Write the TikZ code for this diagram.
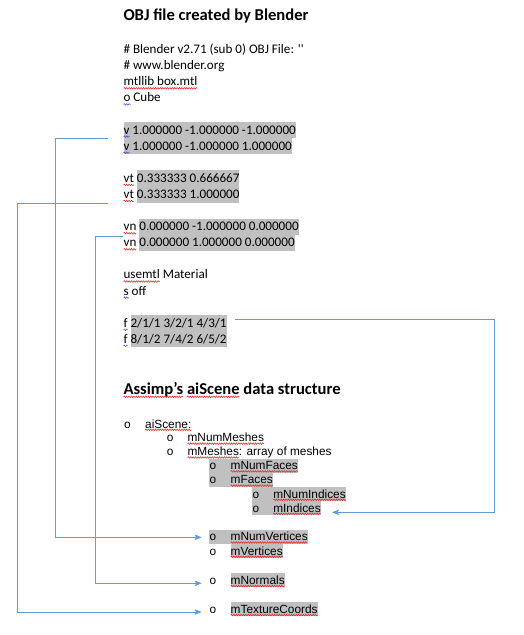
\documentclass[tikz,border=0pt]{standalone}
\usepackage{fontspec}
\setmainfont{Carlito}
\newfontfamily\arialf{Liberation Sans}
\newfontfamily\courf{Liberation Mono}
\usetikzlibrary{arrows.meta,decorations.pathmorphing,backgrounds}
\definecolor{hlgray}{RGB}{192,192,192}
\definecolor{connblue}{RGB}{100,155,210}
\definecolor{sqred}{RGB}{230,30,30}
\definecolor{sqblue}{RGB}{50,70,220}
\newcommand\ftop{\fontsize{13.1}{16}\selectfont}
\newcommand\fttl{\fontsize{16.6}{20}\selectfont\bfseries}
\newcommand\fbot{\arialf\fontsize{11.85}{14}\selectfont}
\newcommand\fbul{\courf\fontsize{11.85}{14}\selectfont}
\newcommand\wsT{2.96pt}
\newcommand\wsB{3.29pt}
\newcommand\wsH{3.75pt}
% highlight from node #1 to node #2, top #3 above base, bottom #4 below base
\newcommand\hlr[4]{\fill[hlgray] ([yshift=#3]#1.base west) rectangle ([yshift=-#4]#2.base east);}
% squiggle under node #2 in style #1, #3 below base
\newcommand\sq[3]{\draw[#1] ([yshift=-#3]#2.base west) -- ([yshift=-#3]#2.base east);}
\tikzset{
  tx/.style={anchor=base west, inner sep=0pt, outer sep=0pt, font=\ftop},
  ttl/.style={anchor=base west, inner sep=0pt, outer sep=0pt, font=\fttl},
  bt/.style={anchor=base west, inner sep=0pt, outer sep=0pt, font=\fbot},
  bul/.style={anchor=base west, inner sep=0pt, outer sep=0pt, font=\fbul},
  conn/.style={draw=connblue, line width=1pt, -{Stealth[length=7pt,width=5.5pt,inset=1.5pt]}},
  redsq/.style={draw=sqred, line width=0.5pt, decorate, decoration={snake, amplitude=0.8pt, segment length=2.4pt}},
  bluesq/.style={draw=sqblue, line width=0.5pt, decorate, decoration={snake, amplitude=0.8pt, segment length=2.4pt}}
}
\begin{document}
\begin{tikzpicture}[x=1pt,y=-1pt]
\useasboundingbox (0,0) rectangle (524,635);
% ---------- OBJ file ----------
\node[ttl] (ttlA) at (123.5,20.7) {OBJ file created by Blender};
\node[tx] (l0) at (123.6,53.5) {\# Blender v2.71 (sub 0) OBJ File: \textquotesingle\textquotesingle};
\node[tx] (l1) at (123.6,69.6) {\# www.blender.org};
\node[tx] (l2) at (123.6,85.7) {mtllib box.mtl};
\node[tx] (l3a) at (123.6,101.8) {o};
\node[tx] (l3b) at ([xshift=\wsT]l3a.base east) {Cube};
\node[tx] (v1a) at (123.6,134.0) {v};
\node[tx] (v1b) at ([xshift=\wsT]v1a.base east) {1.000000 -1.000000 -1.000000};
\node[tx] (v2a) at (123.6,150.1) {v};
\node[tx] (v2b) at ([xshift=\wsT]v2a.base east) {1.000000 -1.000000 1.000000};
\node[tx] (vt1a) at (123.6,182.3) {vt};
\node[tx] (vt1b) at ([xshift=\wsT]vt1a.base east) {0.333333 0.666667};
\node[tx] (vt2a) at (123.6,198.4) {vt};
\node[tx] (vt2b) at ([xshift=\wsT]vt2a.base east) {0.333333 1.000000};
\node[tx] (vn1a) at (123.6,230.6) {vn};
\node[tx] (vn1b) at ([xshift=\wsT]vn1a.base east) {0.000000 -1.000000 0.000000};
\node[tx] (vn2a) at (123.6,246.7) {vn};
\node[tx] (vn2b) at ([xshift=\wsT]vn2a.base east) {0.000000 1.000000 0.000000};
\node[tx] (uma) at (123.6,278.9) {usemtl};
\node[tx] (umb) at ([xshift=\wsT]uma.base east) {Material};
\node[tx] (soa) at (123.6,295.0) {s};
\node[tx] (sob) at ([xshift=\wsT]soa.base east) {off};
\node[tx] (f1a) at (123.6,327.2) {f};
\node[tx] (f1b) at ([xshift=\wsT]f1a.base east) {2/1/1 3/2/1 4/3/1};
\node[tx] (f2a) at (123.6,343.3) {f};
\node[tx] (f2b) at ([xshift=\wsT]f2a.base east) {8/1/2 7/4/2 6/5/2};
% ---------- Assimp ----------
\node[ttl] (ttlB1) at (123.5,394.0) {Assimp’s};
\node[ttl] (ttlB2) at ([xshift=\wsH]ttlB1.base east) {aiScene};
\node[ttl] (ttlB3) at ([xshift=\wsH]ttlB2.base east) {data structure};
\node[bul] (b1) at (123.8,428.0) {o};
\node[bt] (s1) at (145.2,428.0) {aiScene:};
\node[bul] (b2) at (166.5,441.8) {o};
\node[bt] (s2) at (187.6,441.8) {mNumMeshes};
\node[bul] (b3) at (166.5,455.7) {o};
\node[bt] (s3) at (187.6,455.7) {mMeshes};
\node[bt] (s3b) at (s3.base east) {: array of meshes};
\node[bul] (b4) at (209.3,469.6) {o};
\node[bt] (s4) at (230.7,469.6) {mNumFaces};
\node[bul] (b5) at (209.3,483.8) {o};
\node[bt] (s5) at (230.7,483.8) {mFaces};
\node[bul] (b6) at (252.3,498.0) {o};
\node[bt] (s6) at (273.3,498.0) {mNumIndices};
\node[bul] (b7) at (252.3,512.0) {o};
\node[bt] (s7) at (273.3,512.0) {mIndices};
\node[bul] (b8) at (209.3,540.7) {o};
\node[bt] (s8) at (230.7,540.7) {mNumVertices};
\node[bul] (b9) at (209.3,555.0) {o};
\node[bt] (s9) at (230.7,555.0) {mVertices};
\node[bul] (b10) at (209.3,584.3) {o};
\node[bt] (s10) at (230.7,584.3) {mNormals};
\node[bul] (b11) at (209.3,613.3) {o};
\node[bt] (s11) at (230.7,613.3) {mTextureCoords};
% ---------- highlights ----------
\begin{pgfonlayer}{background}
\hlr{v1a}{v1b}{12pt}{4.1pt}
\hlr{v2a}{v2b}{12pt}{4.1pt}
\hlr{vt1b}{vt1b}{12pt}{4.1pt}
\hlr{vt2b}{vt2b}{12pt}{4.1pt}
\hlr{vn1b}{vn1b}{12pt}{4.1pt}
\hlr{vn2b}{vn2b}{12pt}{4.1pt}
\hlr{f1b}{f1b}{12pt}{4.1pt}
\hlr{f2b}{f2b}{12pt}{4.1pt}
\hlr{b4}{s4}{11pt}{3pt}
\hlr{b5}{s5}{11pt}{3pt}
\hlr{b6}{s6}{11pt}{3pt}
\hlr{b7}{s7}{11pt}{3pt}
\hlr{b8}{s8}{11pt}{3pt}
\hlr{s9}{s9}{11pt}{3pt}
\hlr{s10}{s10}{11pt}{3pt}
\hlr{s11}{s11}{11pt}{3pt}
\end{pgfonlayer}
% ---------- squiggles ----------
\sq{redsq}{l2}{2.6pt}
\sq{bluesq}{l3a}{2.6pt}
\sq{bluesq}{v1a}{2.6pt}
\sq{bluesq}{v2a}{2.6pt}
\sq{redsq}{vt1a}{2.6pt}
\sq{redsq}{vt2a}{2.6pt}
\sq{redsq}{vn1a}{2.6pt}
\sq{redsq}{vn2a}{2.6pt}
\sq{redsq}{uma}{2.6pt}
\sq{bluesq}{soa}{2.6pt}
\sq{bluesq}{f1a}{2.6pt}
\sq{bluesq}{f2a}{2.6pt}
\sq{redsq}{ttlB1}{2.8pt}
\sq{redsq}{ttlB2}{2.8pt}
\sq{redsq}{s1}{1.8pt}
\sq{redsq}{s2}{1.8pt}
\sq{redsq}{s3}{1.8pt}
\sq{redsq}{s4}{1.8pt}
\sq{redsq}{s5}{1.8pt}
\sq{redsq}{s6}{1.8pt}
\sq{redsq}{s7}{1.8pt}
\sq{redsq}{s8}{1.8pt}
\sq{redsq}{s9}{1.8pt}
\sq{redsq}{s10}{1.8pt}
\sq{redsq}{s11}{1.8pt}
% ---------- connectors ----------
\coordinate (c1s) at (108.3,138.3);
\coordinate (c2s) at (108.3,203.3);
\coordinate (c3s) at (123.3,236.0);
\coordinate (c4s) at (235.0,319.5);
\draw[conn] (c1s) -- ++(-53.3,0) |- ([xshift=-7.6pt,yshift=3.4pt]b8.base west);
\draw[conn] (c2s) -- ++(-91.0,0) |- ([xshift=-7.6pt,yshift=1.3pt]b11.base west);
\draw[conn] (c3s) -- ++(-28.3,0) |- ([xshift=-7.6pt,yshift=1.0pt]b10.base west);
\draw[conn] (c4s) -- ++(259.3,0) |- ([xshift=11.3pt,yshift=-0.3pt]s7.base east);
\end{tikzpicture}
\end{document}
